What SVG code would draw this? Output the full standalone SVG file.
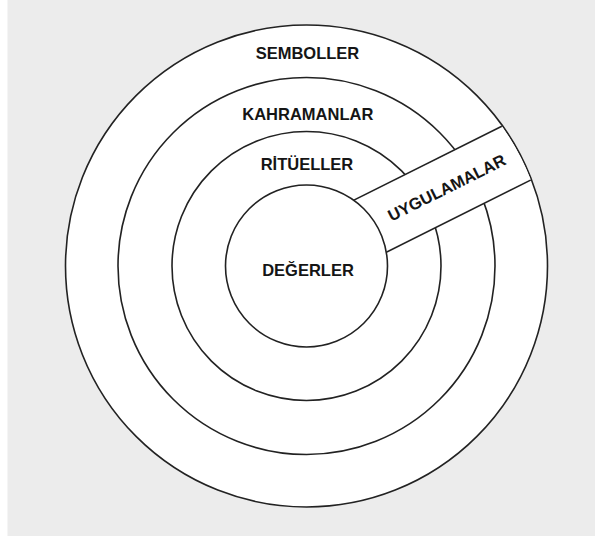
<svg xmlns="http://www.w3.org/2000/svg" width="595" height="536" viewBox="0 0 595 536">
  <style>
    .ring { fill: #ffffff; stroke: #222222; stroke-width: 1.6; }
    .edge { fill: none; stroke: #222222; stroke-width: 1.6; }
    .lbl { font-family: "Liberation Sans", Arial, sans-serif; font-weight: bold; font-size: 16.5px; fill: #151515; text-anchor: middle; }
  </style>
  <defs>
    <clipPath id="bandClip">
      <circle cx="0" cy="0" r="240.2"/>
    </clipPath>
  </defs>
  <rect x="0" y="0" width="595" height="536" fill="#ffffff"/>
  <rect x="7.5" y="0" width="587.5" height="536" fill="#ececec"/>

  <g id="semboller">
    <circle class="ring" cx="306.5" cy="266" r="241"/>
    <text class="lbl" x="307.5" y="59.3">SEMBOLLER</text>
  </g>
  <g id="kahramanlar">
    <circle class="ring" cx="306.5" cy="266" r="188.5"/>
    <text class="lbl" x="307.8" y="120">KAHRAMANLAR</text>
  </g>
  <g id="rituller">
    <circle class="ring" cx="306.5" cy="266" r="134.5"/>
    <text class="lbl" x="307" y="170">RİTÜELLER</text>
  </g>
  <g id="uygulamalar" transform="translate(306.5 266) rotate(-26.565)">
    <g clip-path="url(#bandClip)">
      <rect x="0" y="-37.7" width="245" height="61.1" fill="#ffffff"/>
      <line class="edge" x1="40" y1="-37.7" x2="245" y2="-37.7"/>
      <line class="edge" x1="40" y1="23.4" x2="245" y2="23.4"/>
    </g>
    <text class="lbl" x="160.5" y="-1.5">UYGULAMALAR</text>
  </g>
  <g id="degerler">
    <circle class="ring" cx="306.5" cy="266" r="81"/>
    <text class="lbl" x="308" y="276">DEĞERLER</text>
  </g>
</svg>
